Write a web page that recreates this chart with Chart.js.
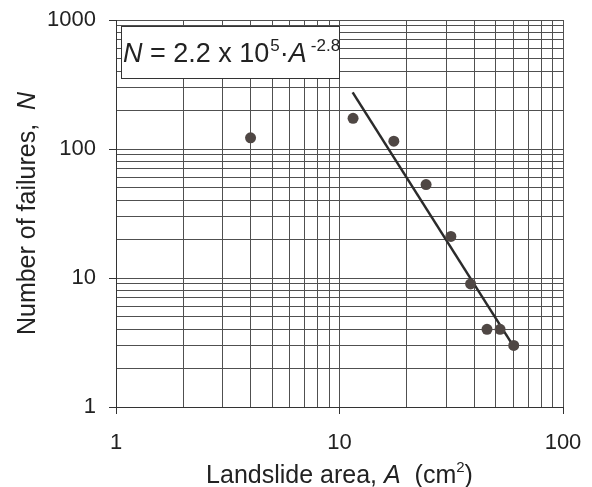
<!DOCTYPE html>
<html lang="en">
<head>
  <meta charset="UTF-8">
  <title>Landslide area vs number of failures</title>
  <script src="https://cdn.jsdelivr.net/npm/chart.js"></script>
  <style>
    html, body { margin: 0; padding: 0; background: #fff; }
    #wrap { width: 592px; height: 487px; position: relative; }
  </style>
</head>
<body>
  <div id="wrap"><canvas id="failChart"></canvas></div>

<script>
  // values
  const areaValues = [4.0, 11.5, 17.5, 24.4, 31.5, 38.6, 45.7, 52.3, 60.2];
  const failureCounts = [122, 173, 115, 53, 21, 9, 4, 4, 3];
  // ends of the drawn fit line  N = 2.2 x 10^5 A^-2.8
  const fitArea = [11.45, 59.7];
  const fitCount = [275, 3.0];

  const xTickValues = [1, 2, 3, 4, 5, 6, 7, 8, 9, 10, 20, 30, 40, 50, 60, 70, 80, 90, 100];
  const yTickValues = [1, 2, 3, 4, 5, 6, 7, 8, 9, 10, 20, 30, 40, 50, 60, 70, 80, 90,
                       100, 200, 300, 400, 500, 600, 700, 800, 900, 1000];
  const xTickLabels = [1, 10, 100];
  const yTickLabels = [1, 10, 100, 1000];

  const FONT = "'Liberation Sans', Arial, sans-serif";
  const INK = '#222';
  const GRID = '#505050';

  function majorTickColor(labels) {
    return ctx => (ctx.tick && labels.includes(ctx.tick.value)) ? '#333' : 'rgba(0,0,0,0)';
  }

  // draws a row of text pieces, each with its own font and vertical shift
  function drawPieces(c, pieces, x, y) {
    let cx = x;
    pieces.forEach(p => {
      c.font = p.font;
      c.fillText(p.text, cx, y - (p.rise || 0));
      cx += c.measureText(p.text).width + (p.gap || 0);
    });
    return cx;
  }
  function piecesWidth(c, pieces) {
    let w = 0;
    pieces.forEach(p => { c.font = p.font; w += c.measureText(p.text).width + (p.gap || 0); });
    return w;
  }

  const textPlugin = {
    id: 'textPlugin',
    afterDraw(chart) {
      const c = chart.ctx;
      const area = chart.chartArea;
      c.save();
      c.fillStyle = INK;
      c.textBaseline = 'alphabetic';
      c.textAlign = 'left';

      // x axis title
      const xt = [
        { text: 'Landslide area, ', font: '25px ' + FONT },
        { text: 'A', font: 'italic 25px ' + FONT },
        { text: '  (cm', font: '25px ' + FONT },
        { text: '2', font: '15px ' + FONT, rise: 11 },
        { text: ')', font: '25px ' + FONT }
      ];
      const xw = piecesWidth(c, xt);
      drawPieces(c, xt, (area.left + area.right) / 2 - xw / 2, 483);

      // y axis title
      const yt = [
        { text: 'Number of failures,  ', font: '25px ' + FONT },
        { text: 'N', font: 'italic 25px ' + FONT }
      ];
      const yw = piecesWidth(c, yt);
      c.save();
      c.translate(35, (area.top + area.bottom) / 2);
      c.rotate(-Math.PI / 2);
      drawPieces(c, yt, -yw / 2, 0);
      c.restore();

      // equation box
      const bx = area.left + 5, by = area.top + 6, bw = 218, bh = 52;
      c.fillStyle = '#fff';
      c.fillRect(bx, by, bw, bh);
      c.strokeStyle = '#333';
      c.lineWidth = 1;
      c.strokeRect(bx + 0.5, by + 0.5, bw, bh);
      c.fillStyle = INK;
      const eq = [
        { text: 'N', font: 'italic 27px ' + FONT },
        { text: ' = 2.2 x 10', font: '27px ' + FONT, gap: 1 },
        { text: '5', font: '17px ' + FONT, rise: 11 },
        { text: '\u00b7', font: '27px ' + FONT },
        { text: 'A', font: 'italic 27px ' + FONT, gap: 4 },
        { text: '-2.8', font: '17px ' + FONT, rise: 11 }
      ];
      drawPieces(c, eq, bx + 2, by + 36);
      c.restore();
    }
  };

  const chart = new Chart(document.getElementById('failChart'), {
    data: {
      datasets: [
        {
          type: 'scatter',
          label: 'failures',
          data: areaValues.map((a, i) => ({ x: a, y: failureCounts[i] })),
          pointRadius: 5.5,
          pointBackgroundColor: '#4f4744',
          pointBorderWidth: 0
        },
        {
          type: 'line',
          label: 'fit',
          data: fitArea.map((a, i) => ({ x: a, y: fitCount[i] })),
          borderColor: '#2b2b2b',
          borderWidth: 2.5,
          pointRadius: 0,
          fill: false
        }
      ]
    },
    options: {
      responsive: true,
      maintainAspectRatio: false,
      animation: false,
      layout: { padding: { top: 20, right: 29, left: 0, bottom: 0 } },
      plugins: { legend: { display: false }, tooltip: { enabled: false } },
      scales: {
        x: {
          type: 'logarithmic',
          position: 'bottom',
          min: 1,
          max: 100,
          afterBuildTicks: s => { s.ticks = xTickValues.map(v => ({ value: v })); },
          afterFit: s => { s.height = 80; s.paddingLeft = 0; s.paddingRight = 0; },
          ticks: {
            autoSkip: false,
            maxRotation: 0,
            padding: 16,
            color: INK,
            font: { family: FONT, size: 22 },
            callback: v => xTickLabels.includes(v) ? String(v) : ''
          },
          grid: { color: GRID, lineWidth: 1, tickLength: 7, tickColor: majorTickColor(xTickLabels) },
          border: { color: '#333', width: 1 }
        },
        y: {
          type: 'logarithmic',
          position: 'left',
          min: 1,
          max: 1000,
          afterBuildTicks: s => { s.ticks = yTickValues.map(v => ({ value: v })); },
          afterFit: s => { s.width = 116; s.paddingTop = 0; s.paddingBottom = 0; },
          ticks: {
            autoSkip: false,
            padding: 13,
            color: INK,
            font: { family: FONT, size: 22 },
            callback: v => yTickLabels.includes(v) ? String(v) : ''
          },
          grid: { color: GRID, lineWidth: 1, tickLength: 7, tickColor: majorTickColor(yTickLabels) },
          border: { color: '#333', width: 1 }
        }
      }
    },
    plugins: [textPlugin]
  });
</script>
</body>
</html>
